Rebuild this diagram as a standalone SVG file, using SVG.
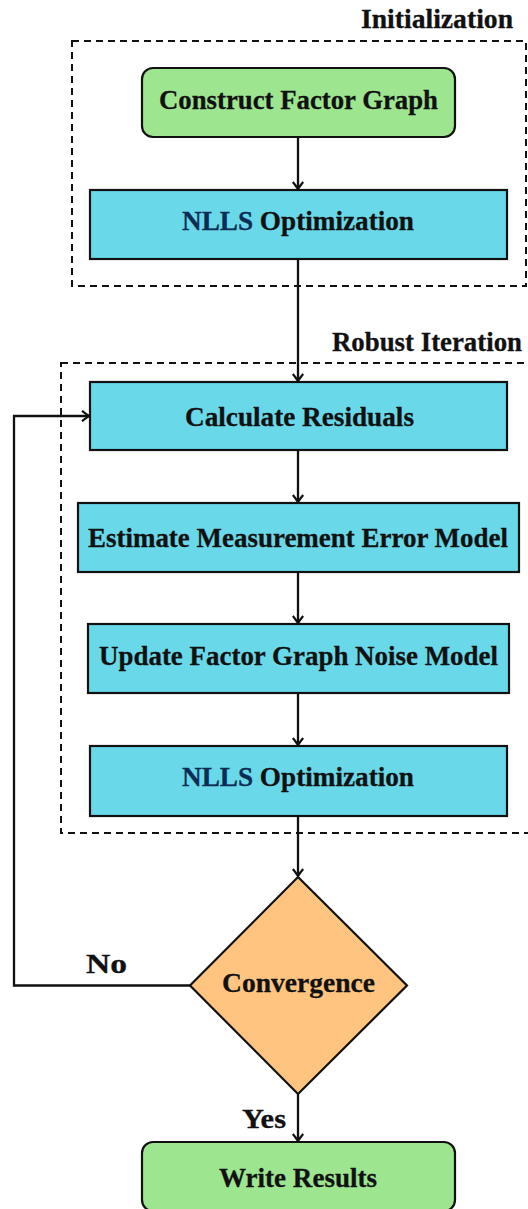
<svg xmlns="http://www.w3.org/2000/svg" width="528" height="1209" viewBox="0 0 528 1209">
  <style>
    text { font-family: "Liberation Serif", "Times New Roman", serif; font-weight: bold; font-size: 28px; fill: #111; stroke: #111; stroke-width: 0.3; }
    .green { fill: #9de58f; stroke: #111; stroke-width: 2.2; }
    .cyan { fill: #69d9ea; stroke: #111; stroke-width: 2.2; }
    .orange { fill: #ffc580; stroke: #111; stroke-width: 2.2; }
    .group { fill: none; stroke: #111; stroke-width: 2; stroke-dasharray: 7 5; }
    .edge { fill: none; stroke: #111; stroke-width: 2.3; }
    .blue { fill: #0b2d54; stroke: #0b2d54; }
  </style>
  <defs>
    <marker id="tip" viewBox="-10 -6 12 12" markerWidth="12" markerHeight="12" refX="0" refY="0" orient="auto" markerUnits="userSpaceOnUse">
      <path d="M -7 -5.2 Q -2 -1.2 0 0 Q -2 1.2 -7 5.2" fill="none" stroke="#111" stroke-width="2.2"/>
    </marker>
  </defs>

  <!-- stage frames -->
  <g id="stage-initialization">
    <rect class="group" x="72" y="41" width="454" height="245"/>
    <text x="361" y="28" textLength="152" lengthAdjust="spacingAndGlyphs">Initialization</text>
  </g>
  <g id="stage-robust-iteration">
    <rect class="group" x="61" y="363" width="480" height="470"/>
    <text x="332" y="351" textLength="190" lengthAdjust="spacingAndGlyphs">Robust Iteration</text>
  </g>

  <!-- connectors -->
  <g id="connectors">
    <path class="edge" d="M298 137 V189" marker-end="url(#tip)"/>
    <path class="edge" d="M298 259 V381" marker-end="url(#tip)"/>
    <path class="edge" d="M298 450 V502" marker-end="url(#tip)"/>
    <path class="edge" d="M298 572 V623" marker-end="url(#tip)"/>
    <path class="edge" d="M298 693 V745" marker-end="url(#tip)"/>
    <path class="edge" d="M298 816 V876" marker-end="url(#tip)"/>
    <path class="edge" d="M298 1094 V1141" marker-end="url(#tip)"/>
    <path class="edge" d="M190 985.5 H14 V416 H89" marker-end="url(#tip)"/>
    <text x="86" y="973" font-size="31" textLength="41" lengthAdjust="spacingAndGlyphs">No</text>
    <text x="242" y="1128" font-size="31" textLength="44" lengthAdjust="spacingAndGlyphs">Yes</text>
  </g>

  <!-- nodes -->
  <g id="construct-factor-graph">
    <rect class="green" x="142" y="68" width="313" height="69" rx="11"/>
    <text x="159" y="109" textLength="279" lengthAdjust="spacingAndGlyphs">Construct Factor Graph</text>
  </g>
  <g id="nlls-optimization-init">
    <rect class="cyan" x="90" y="190" width="417" height="69"/>
    <text x="182" y="230" textLength="232" lengthAdjust="spacingAndGlyphs"><tspan class="blue">NLLS</tspan> Optimization</text>
  </g>
  <g id="calculate-residuals">
    <rect class="cyan" x="90" y="382" width="417" height="68"/>
    <text x="185" y="426" textLength="229" lengthAdjust="spacingAndGlyphs">Calculate Residuals</text>
  </g>
  <g id="estimate-error-model">
    <rect class="cyan" x="78" y="503" width="441" height="69"/>
    <text x="88" y="547" textLength="420" lengthAdjust="spacingAndGlyphs">Estimate Measurement Error Model</text>
  </g>
  <g id="update-noise-model">
    <rect class="cyan" x="88" y="624" width="421" height="69"/>
    <text x="99" y="665" textLength="399" lengthAdjust="spacingAndGlyphs">Update Factor Graph Noise Model</text>
  </g>
  <g id="nlls-optimization-iter">
    <rect class="cyan" x="90" y="746" width="417" height="70"/>
    <text x="182" y="786" textLength="232" lengthAdjust="spacingAndGlyphs"><tspan class="blue">NLLS</tspan> Optimization</text>
  </g>
  <g id="convergence">
    <polygon class="orange" points="298,877 407,985.5 298,1094 190,985.5"/>
    <text x="222" y="992" textLength="153" lengthAdjust="spacingAndGlyphs">Convergence</text>
  </g>
  <g id="write-results">
    <rect class="green" x="142" y="1142" width="313" height="69" rx="11"/>
    <text x="219" y="1187" textLength="158" lengthAdjust="spacingAndGlyphs">Write Results</text>
  </g>
</svg>
